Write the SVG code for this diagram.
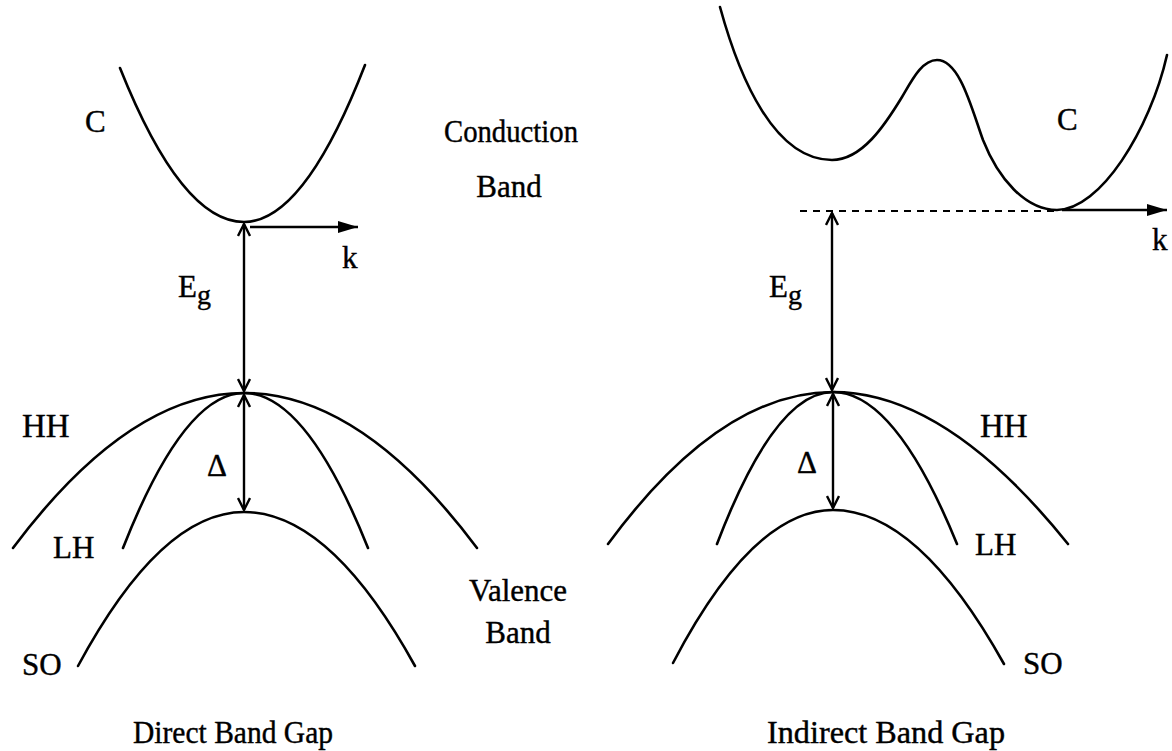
<svg xmlns="http://www.w3.org/2000/svg" width="1172" height="751" viewBox="0 0 1172 751">
<style>
.c{fill:none;stroke:#000;stroke-width:2.6;stroke-linecap:round}
.a{fill:none;stroke:#000;stroke-width:2.4}
.t{font-family:"Liberation Serif","Times New Roman",serif;font-size:31px;fill:#000;stroke:#000;stroke-width:0.4}
.s{font-size:28px}
.h{font-size:33px}
</style>
<defs>
<marker id="v" viewBox="0 0 14 14" refX="13" refY="7" markerWidth="14" markerHeight="14" markerUnits="userSpaceOnUse" orient="auto-start-reverse">
<path d="M1,1 L13,7 L1,13" fill="none" stroke="#000" stroke-width="2.4"/>
</marker>
<marker id="f" viewBox="0 0 20 12" refX="20" refY="6" markerWidth="20" markerHeight="12" markerUnits="userSpaceOnUse" orient="auto">
<path d="M0,0 L20,6 L0,12 Z" fill="#000"/>
</marker>
</defs>
<rect width="1172" height="751" fill="#fff"/>

<g id="direct">
<g id="direct-bands">
<path id="dC" class="c" d="M120,68 Q181.5,222 244,222 Q304,222 365,65"/>
<path id="dHH" class="c" d="M13,548 Q129,393 244,393 Q361,393 477,548"/>
<path id="dLH" class="c" d="M123,548 Q184,393 244,393 Q306,393 368,548"/>
<path id="dSO" class="c" d="M78,666 Q161,512 244,512 Q330,512 415,666"/>
</g>
<g id="direct-labels" class="t">
<text x="85" y="132">C</text>
<text x="342" y="268">k</text>
<text x="178" y="297">E<tspan class="s" dy="7">g</tspan></text>
<text class="h" x="22" y="437">HH</text>
<text x="53" y="558">LH</text>
<text x="207" y="476">Δ</text>
<text x="22" y="675">SO</text>
<text x="133" y="743" textLength="200" lengthAdjust="spacingAndGlyphs">Direct Band Gap</text>
</g>
</g>

<g id="middle" class="t" text-anchor="middle">
<text x="511" y="142" textLength="134" lengthAdjust="spacingAndGlyphs">Conduction</text>
<text x="509" y="197">Band</text>
<text x="518" y="601" textLength="98" lengthAdjust="spacingAndGlyphs">Valence</text>
<text x="518" y="643">Band</text>
</g>

<g id="indirect">
<g id="indirect-bands">
<path id="iC" class="c" d="M720,7 C740,80 775,160 832,160 C862,160 885,125 902,97 C912,80 922,60 937,60 C960,60 972,110 983,140 C998,178 1025,210 1057,210 C1100,210 1150,130 1167,55"/>
<path id="iHH" class="c" d="M608,544 Q720,392 833,392 Q946,392 1068,544"/>
<path id="iLH" class="c" d="M717,544 Q775,392 833,392 Q895,392 957,544"/>
<path id="iSO" class="c" d="M673,663 Q753,510 833,510 Q918,510 1004,664"/>
</g>
<g id="indirect-labels" class="t">
<text x="1057" y="130">C</text>
<text x="1152" y="250">k</text>
<text x="769" y="297">E<tspan class="s" dy="7">g</tspan></text>
<text class="h" x="980" y="437">HH</text>
<text x="975" y="555">LH</text>
<text x="797" y="473">Δ</text>
<text x="1023" y="674">SO</text>
<text x="767" y="743" textLength="238" lengthAdjust="spacingAndGlyphs">Indirect Band Gap</text>
</g>
</g>

<g id="connectors">
<line class="a" x1="244" y1="224" x2="244" y2="391" marker-start="url(#v)" marker-end="url(#v)"/>
<line class="a" x1="244" y1="395" x2="244" y2="510" marker-start="url(#v)" marker-end="url(#v)"/>
<line class="a" x1="250" y1="227" x2="358" y2="227" marker-end="url(#f)"/>
<line class="a" x1="832" y1="213" x2="832" y2="390" marker-start="url(#v)" marker-end="url(#v)"/>
<line class="a" x1="833" y1="394" x2="833" y2="508" marker-start="url(#v)" marker-end="url(#v)"/>
<line x1="800" y1="211" x2="1057" y2="211" stroke="#000" stroke-width="2" stroke-dasharray="7,6"/>
<line class="a" x1="1062" y1="210" x2="1167" y2="210" marker-end="url(#f)"/>
</g>
</svg>
